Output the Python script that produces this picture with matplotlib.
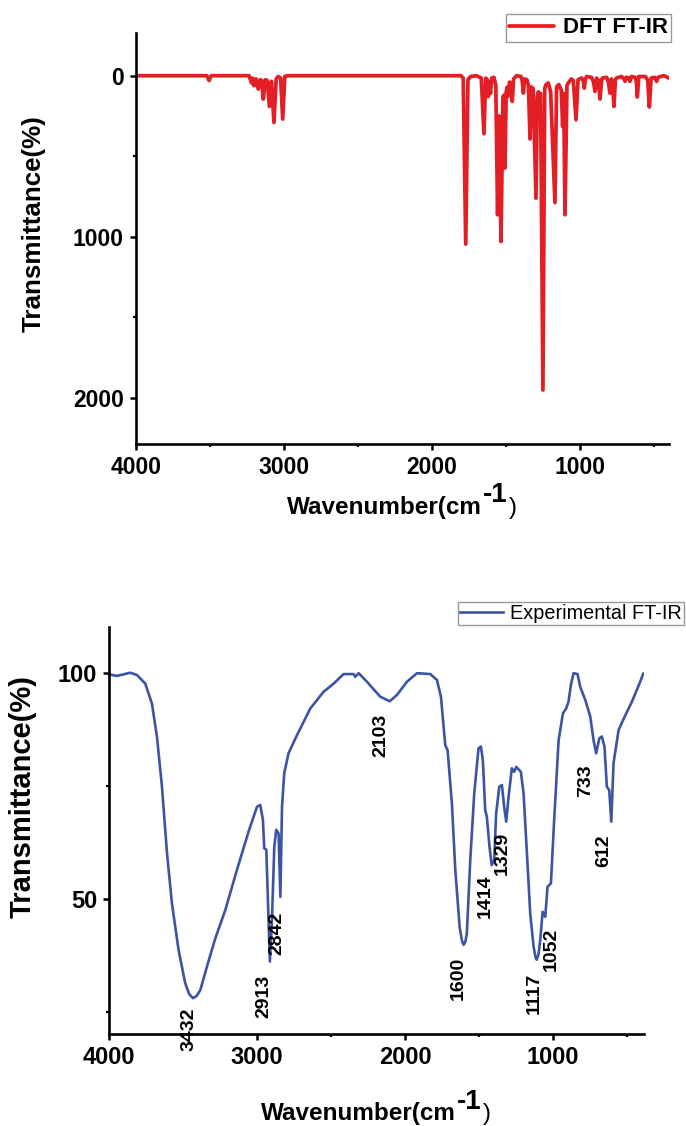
import matplotlib
matplotlib.use('Agg')
import matplotlib.pyplot as plt
from matplotlib.ticker import MultipleLocator

plt.rcParams['font.family'] = ['Liberation Sans', 'DejaVu Sans']

# ---------------- DFT (computed) spectrum, digitised ----------------
dft_wavenumber = [4000, 3520, 3505, 3490,
                  3235, 3218, 3210, 3202, 3188, 3173, 3160, 3150, 3139, 3125, 3112, 3098,
                  3084, 3067, 3052, 3038, 3022, 3008, 2994, 2975,
                  1805, 1790, 1773, 1758, 1740, 1700, 1668, 1650, 1638, 1628, 1621, 1614,
                  1606, 1598, 1583, 1570, 1558, 1547, 1535, 1522, 1514, 1508, 1500, 1492,
                  1486, 1478, 1468, 1459, 1450, 1430, 1400, 1392, 1384, 1376, 1360, 1350,
                  1339, 1330, 1318, 1299, 1290, 1283, 1277, 1268, 1252, 1240, 1232, 1216,
                  1200, 1171, 1160, 1145, 1128, 1119, 1112, 1103, 1090, 1081, 1060, 1047,
                  1029, 1015, 991, 980, 973, 965, 957, 925, 910, 901, 890, 878, 867, 855,
                  849, 822, 810, 800, 790, 783, 773, 763, 755, 722, 705, 698, 690, 672,
                  665, 655, 630, 622, 615, 605, 560, 545, 534, 522, 500, 492, 485, 475,
                  440, 420, 406]
dft_intensity = [0, 0, 30, 0,
                 0, 45, 15, 62, 20, 83, 25, 30, 145, 25, 30, 190,
                 35, 290, 20, 5, 15, 269, 5, 0,
                 0, 15, 1045, 25, 5, 0, 15, 360, 15, 25, 130, 40,
                 110, 15, 10, 60, 863, 250, 1029, 130, 120, 573, 100, 70,
                 128, 40, 45, 159, 20, 0, 5, 30, 108, 20, 25, 60,
                 393, 70, 80, 760, 130, 100, 128, 110, 1950, 80, 56, 45,
                 100, 787, 70, 55, 90, 315, 110, 863, 60, 45, 20, 30,
                 273, 25, 14, 30, 77, 20, 5, 10, 40, 97, 15, 30, 145, 20,
                 14, 10, 40, 108, 20, 40, 190, 25, 14, 5, 20, 35, 10, 15,
                 35, 5, 10, 30, 132, 5, 5, 30, 194, 15, 10, 20, 35, 10,
                 0, 5, 14]

# ---------------- Experimental spectrum, digitised ----------------
exp_wavenumber = [3995, 3946, 3856, 3811, 3755, 3710, 3676, 3642, 3608, 3575, 3530, 3485,
                  3458, 3432, 3408, 3383, 3338, 3282, 3214, 3136, 3057, 3000, 2978, 2960,
                  2951, 2937, 2922, 2913, 2899, 2883, 2870, 2854, 2842, 2831, 2816, 2787,
                  2730, 2640, 2550, 2482, 2415, 2347, 2336, 2313, 2257, 2167, 2103, 2054,
                  1987, 1919, 1829, 1784, 1757, 1739, 1728, 1712, 1683, 1660, 1631, 1615,
                  1604, 1592, 1582, 1559, 1532, 1503, 1487, 1474, 1458, 1447, 1429, 1414,
                  1397, 1384, 1363, 1345, 1330, 1316, 1300, 1278, 1262, 1248, 1217, 1199,
                  1176, 1154, 1131, 1118, 1110, 1098, 1086, 1070, 1052, 1037, 1014, 992,
                  962, 933, 911, 895, 879, 861, 834, 816, 782, 748, 726, 708,
                  687, 670, 652, 636, 620, 606, 591, 557, 520, 468, 417, 390]
exp_transmittance = [99.6, 99.3, 100.0, 99.5, 97.6, 93.2, 85.9, 74.8, 60.1, 49.1, 38.8, 31.4,
                     29.0, 28.1, 28.6, 29.9, 35.1, 41.3, 47.6, 56.4, 64.9, 70.4, 70.8, 67.5,
                     61.2, 60.9, 45.4, 36.2, 45.4, 61.6, 65.3, 64.5, 50.5, 70.4, 77.8, 82.2,
                     86.2, 92.1, 95.8, 97.6, 99.7, 99.7, 99.1, 99.9, 98.0, 94.7, 93.7, 95.1,
                     98.0, 99.9, 99.7, 98.4, 94.7, 88.1, 84.0, 82.9, 71.1, 56.4, 43.9, 40.8,
                     39.9, 40.6, 42.4, 58.6, 73.4, 83.3, 83.7, 80.7, 69.7, 68.2, 61.6, 57.5,
                     58.6, 68.9, 74.8, 75.2, 70.4, 67.1, 72.6, 78.9, 78.1, 79.2, 78.1, 73.4,
                     60.1, 46.9, 39.5, 37.2, 36.6, 37.8, 41.0, 47.2, 46.1, 52.7, 53.5, 67.5,
                     85.1, 91.0, 92.1, 93.6, 97.3, 99.9, 99.7, 96.9, 94.0, 90.3, 85.1, 82.2,
                     85.5, 85.9, 83.7, 74.8, 74.1, 67.1, 80.0, 87.3, 90.0, 93.5, 97.5, 99.8]

# peak annotations (text, and where each label sits in data coordinates)
peak_labels = ['3432', '2913', '2842', '2103', '1600', '1414', '1329', '1117', '1052', '733', '612']
label_x = [3457, 2951, 2865, 2160, 1642, 1457, 1345, 1126, 1014, 782, 660]
label_y = [21.3, 28.6, 42.5, 86.2, 32.4, 50.7, 60.0, 29.1, 38.8, 76.1, 60.6]

RED = '#E31E24'
BLUE = '#3B54A4'
W, H = 686, 1126

fig = plt.figure(figsize=(W / 100, H / 100), dpi=100)


def frac_box(l, t, r, b):
    return [l / W, 1 - b / H, (r - l) / W, (b - t) / H]


ax1 = fig.add_axes(frac_box(135.7, 33, 669.2, 444))
ax2 = fig.add_axes(frac_box(109, 627, 644, 1034))


def style(ax, fs):
    for s in ['top', 'right']:
        ax.spines[s].set_visible(False)
    for s in ['left', 'bottom']:
        ax.spines[s].set_linewidth(1.9)
    ax.tick_params(which='major', direction='out', length=4.5, width=1.8, labelsize=fs, pad=4)
    ax.tick_params(which='minor', direction='out', length=2.5, width=1.6)
    for lab in ax.get_xticklabels() + ax.get_yticklabels():
        lab.set_fontweight('bold')
    ax.xaxis.set_major_locator(MultipleLocator(1000))
    ax.xaxis.set_minor_locator(MultipleLocator(500))


# ---------- top panel ----------
ax1.plot(dft_wavenumber, dft_intensity, color=RED, lw=2.7, solid_joinstyle='round',
         solid_capstyle='round', label='DFT FT-IR')
ax1.set_xlim(4000, 400)
ax1.set_ylim(2285, -265)
ax1.yaxis.set_major_locator(MultipleLocator(1000))
ax1.yaxis.set_minor_locator(MultipleLocator(500))
style(ax1, 16.5)

leg1 = ax1.legend(loc='upper right', bbox_to_anchor=(671 / W, 1 - 14 / H),
                  bbox_transform=fig.transFigure, prop={'weight': 'bold', 'size': 16},
                  frameon=True, fancybox=False, edgecolor='#808080', borderpad=0.15,
                  handlelength=2.0, handletextpad=0.4, borderaxespad=0)
leg1.get_frame().set_linewidth(1.0)

# ---------- bottom panel ----------
ax2.plot(exp_wavenumber, exp_transmittance, color=BLUE, lw=1.9, solid_joinstyle='round',
         label='Experimental FT-IR')
ax2.set_xlim(4000, 385)
ax2.set_ylim(20.2, 110.1)
ax2.yaxis.set_major_locator(MultipleLocator(50))
ax2.yaxis.set_minor_locator(MultipleLocator(25))
style(ax2, 17)

leg2 = ax2.legend(loc='upper right', bbox_to_anchor=(684 / W, 1 - 601.5 / H),
                  bbox_transform=fig.transFigure, prop={'size': 14.3},
                  frameon=True, fancybox=False, edgecolor='#808080', borderpad=0.12,
                  handlelength=2.15, handletextpad=0.35, borderaxespad=0)
leg2.get_frame().set_linewidth(1.0)

for t, x, y in zip(peak_labels, label_x, label_y):
    ax2.text(x, y, t, rotation=90, ha='center', va='center', fontsize=14,
             fontweight='bold', clip_on=False, zorder=5)

# ---------- axis titles ----------
fig.text(34 / W, 1 - 224 / H, 'Transmittance(%)', rotation=90, ha='center', va='center',
         fontsize=18.7, fontweight='bold')
fig.text(22.5 / W, 1 - 797 / H, 'Transmittance(%)', rotation=90, ha='center', va='center',
         fontsize=21, fontweight='bold')


def compound_xlabel(center_px, base_px, fs, sup_fs, raise_px):
    fig.canvas.draw()
    r = fig.canvas.get_renderer()
    y = 1 - base_px / H
    t1 = fig.text(0, y, 'Wavenumber(cm', fontsize=fs, fontweight='bold', va='baseline', ha='left')
    t2 = fig.text(0, 1 - (base_px - raise_px) / H, '-1', fontsize=sup_fs, fontweight='bold',
                  va='baseline', ha='left')
    t3 = fig.text(0, y, ')', fontsize=fs, va='baseline', ha='left')
    w1 = t1.get_window_extent(r).width
    w2 = t2.get_window_extent(r).width
    w3 = t3.get_window_extent(r).width
    x0 = center_px - (w1 + w2 + w3 + 2) / 2
    t1.set_x(x0 / W)
    t2.set_x((x0 + w1 + 1) / W)
    t3.set_x((x0 + w1 + w2 + 2) / W)


compound_xlabel(402, 514, 17.5, 20, 12)
compound_xlabel(376, 1120, 17.5, 20, 11)

fig.savefig('out.png', dpi=100)
